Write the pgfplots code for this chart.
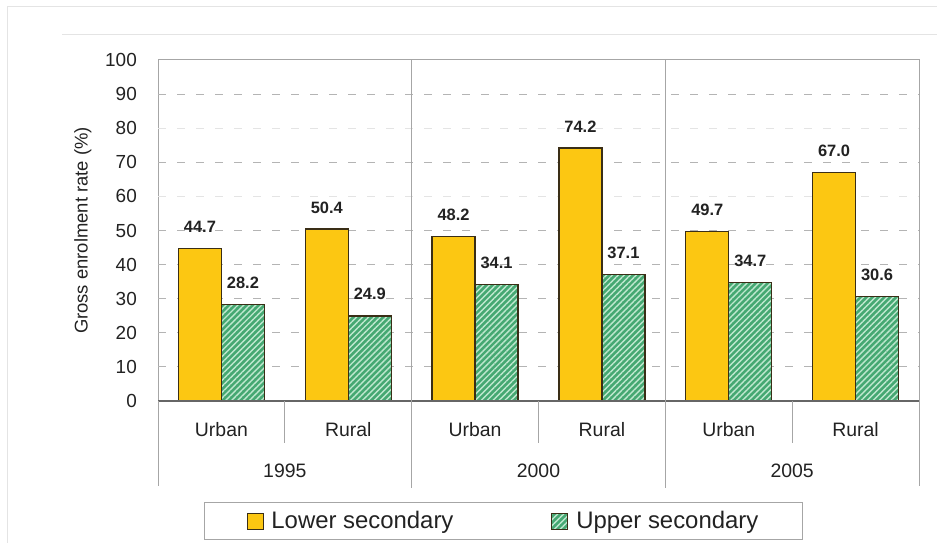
\documentclass[border=0pt]{standalone}
\usepackage{pgfplots}
\pgfplotsset{compat=1.18}
\usepackage{fontspec}
\setmainfont{Liberation Sans}
\usetikzlibrary{patterns,patterns.meta}

\definecolor{lowerfill}{HTML}{FCC712}
\definecolor{upperfill}{HTML}{45A872}
\definecolor{upperline}{HTML}{BFE8CF}
\definecolor{baredge}{HTML}{3A2E16}
\definecolor{framegray}{HTML}{A6A6A6}
\definecolor{gridgray}{HTML}{B4B4B4}
\definecolor{faintgray}{HTML}{E4E4E4}
\definecolor{txt}{HTML}{222222}

\begin{document}
\begin{tikzpicture}
\useasboundingbox (0,0) rectangle (937bp,543bp);
% light page frame and top rule
\draw[faintgray, line width=0.8bp] (7bp,0) -- (7bp,537bp) -- (937bp,537bp);
\draw[faintgray, line width=0.8bp] (62bp,509bp) -- (937bp,509bp);
\begin{axis}[
  at={(158bp,142bp)}, anchor=south west,
  scale only axis, width=761bp, height=341bp,
  ymin=0, ymax=100, xmin=-0.5, xmax=5.5,
  ybar=0pt, bar width=43bp,
  /pgf/number format/assume math mode=true,
  ytick={0,10,...,100},
  xtick={0,...,5},
  xticklabels={Urban,Rural,Urban,Rural,Urban,Rural},
  major tick length=0pt,
  axis line style={framegray, line width=1bp},
  extra y ticks={10,20,30,40,50,70,90},
  extra y tick labels={},
  extra y tick style={grid=major, major grid style={gridgray, line width=0.8bp, dash pattern=on 8bp off 11bp}},
  tick label style={font=\fontsize{19}{21}\selectfont, text=txt},
  yticklabel style={anchor=east, inner sep=0pt, xshift=-21bp},
  xticklabel style={anchor=center, inner sep=0pt, yshift=-29bp, font=\fontsize{19.5}{21}\selectfont},
  ylabel={Gross enrolment rate (\%)},
  every axis y label/.style={at={(axis description cs:-0.0986,0.5)}, rotate=90, anchor=center, font=\fontsize{18.5}{20}\selectfont, text=txt},
  nodes near coords,
  every node near coord/.append style={font=\bfseries\fontsize{16.5}{19}\selectfont, text=txt, yshift=12bp},
  nodes near coords style={/pgf/number format/.cd, fixed, fixed zerofill, precision=1, assume math mode=true},
  legend columns=2,
  legend style={at={(axis description cs:0.454,-0.352)}, anchor=center,
    draw=framegray, line width=1bp, font=\fontsize{24}{26}\selectfont, text=txt,
    inner xsep=42bp, inner ysep=7bp,
    /tikz/every odd column/.append style={column sep=6bp},
    /tikz/every even column/.append style={column sep=96bp}},
  legend image code/.code={\draw[#1, line width=0.8bp] (0bp,-8bp) rectangle (16bp,8bp);},
  clip=false,
]
% faint gridlines, behind the bars
\draw[faintgray, line width=0.8bp, dash pattern=on 8bp off 11bp] (axis cs:-0.5,60) -- (axis cs:5.5,60);
\draw[faintgray, line width=0.8bp, dash pattern=on 8bp off 11bp] (axis cs:-0.5,80) -- (axis cs:5.5,80);

% lower secondary
\addplot[fill=lowerfill, draw=baredge, line width=1.3bp]
  coordinates {(0,44.7) (1,50.4) (2,48.2) (3,74.2) (4,49.7) (5,67.0)};
% upper secondary (hatched)
\addplot[fill=upperfill, draw=baredge, line width=1.3bp,
  postaction={pattern={Lines[angle=45, distance=4.2bp, line width=1.4bp]}, pattern color=upperline}]
  coordinates {(0,28.2) (1,24.9) (2,34.1) (3,37.1) (4,34.7) (5,30.6)};
\legend{Lower secondary, Upper secondary}

% bottom axis line
\draw[gray!80!black, line width=1.2bp] (axis cs:-0.5,0) -- (axis cs:5.5,0);
% group separators
\draw[framegray, line width=1bp] (axis cs:-0.5,0) -- ([yshift=-85bp]axis cs:-0.5,0);
\draw[framegray, line width=1bp] (axis cs:5.5,0) -- ([yshift=-85bp]axis cs:5.5,0);
\draw[framegray, line width=1bp] (axis cs:1.5,100) -- ([yshift=-87bp]axis cs:1.5,0);
\draw[framegray, line width=1bp] (axis cs:3.5,100) -- ([yshift=-87bp]axis cs:3.5,0);
\draw[framegray, line width=1bp] (axis cs:0.5,0) -- ([yshift=-42bp]axis cs:0.5,0);
\draw[framegray, line width=1bp] (axis cs:2.5,0) -- ([yshift=-42bp]axis cs:2.5,0);
\draw[framegray, line width=1bp] (axis cs:4.5,0) -- ([yshift=-42bp]axis cs:4.5,0);
% year labels
\node[font=\fontsize{19.5}{21}\selectfont, text=txt] at (axis cs:0.5,0) [yshift=-70bp] {1995};
\node[font=\fontsize{19.5}{21}\selectfont, text=txt] at (axis cs:2.5,0) [yshift=-70bp] {2000};
\node[font=\fontsize{19.5}{21}\selectfont, text=txt] at (axis cs:4.5,0) [yshift=-70bp] {2005};
\end{axis}
\end{tikzpicture}
\end{document}
